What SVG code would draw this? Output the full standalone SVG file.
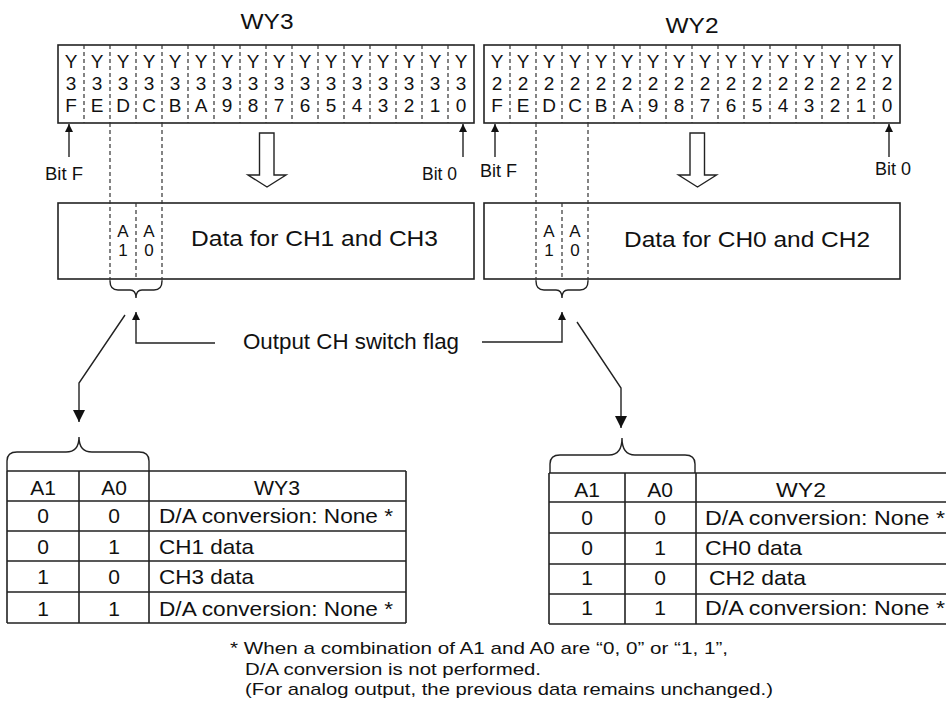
<svg xmlns="http://www.w3.org/2000/svg" width="946" height="715" viewBox="0 0 946 715">
<defs>
<style>
text{font-family:"Liberation Sans",Arial,sans-serif;fill:#111}
.reg{font-size:19px;text-anchor:middle}
.ttl{font-size:22px;text-anchor:middle}
.bit{font-size:18px}
.ab{font-size:17px;text-anchor:middle}
.big{font-size:22px}
.tb{font-size:21px}
.tc{font-size:21px;text-anchor:middle}
.fn{font-size:17px}
.box{fill:#fff;stroke:#222;stroke-width:1.6}
.dash{fill:none;stroke:#333;stroke-width:1.2;stroke-dasharray:4 3}
.ln{fill:none;stroke:#222;stroke-width:1.4}
.tl{fill:none;stroke:#222;stroke-width:1.6}
.hollow{fill:#fff;stroke:#222;stroke-width:1.4}
</style>
<marker id="ahBig" viewBox="0 0 10 10" refX="10" refY="5" markerWidth="12" markerHeight="13" markerUnits="userSpaceOnUse" orient="auto"><path d="M0,0 L10,5 L0,10 z" fill="#111"/></marker>
<marker id="ahSmall" viewBox="0 0 10 10" refX="10" refY="5" markerWidth="8" markerHeight="8" markerUnits="userSpaceOnUse" orient="auto"><path d="M0,0 L10,5 L0,10 z" fill="#111"/></marker>
</defs>
<rect width="946" height="715" fill="#fff"/>

<g id="wy3-register">
<text class="ttl" x="267" y="29" textLength="53" lengthAdjust="spacingAndGlyphs">WY3</text>
<rect class="box" x="58" y="45" width="416" height="78"/>
<path class="dash" d="M84,45V123M110,45V123M136,45V123M162,45V123M188,45V123M214,45V123M240,45V123M266,45V123M292,45V123M318,45V123M344,45V123M370,45V123M396,45V123M422,45V123M448,45V123"/>
<text class="reg" x="71" y="68">Y<tspan x="71" y="90">3</tspan><tspan x="71" y="112">F</tspan></text>
<text class="reg" x="97" y="68">Y<tspan x="97" y="90">3</tspan><tspan x="97" y="112">E</tspan></text>
<text class="reg" x="123" y="68">Y<tspan x="123" y="90">3</tspan><tspan x="123" y="112">D</tspan></text>
<text class="reg" x="149" y="68">Y<tspan x="149" y="90">3</tspan><tspan x="149" y="112">C</tspan></text>
<text class="reg" x="175" y="68">Y<tspan x="175" y="90">3</tspan><tspan x="175" y="112">B</tspan></text>
<text class="reg" x="201" y="68">Y<tspan x="201" y="90">3</tspan><tspan x="201" y="112">A</tspan></text>
<text class="reg" x="227" y="68">Y<tspan x="227" y="90">3</tspan><tspan x="227" y="112">9</tspan></text>
<text class="reg" x="253" y="68">Y<tspan x="253" y="90">3</tspan><tspan x="253" y="112">8</tspan></text>
<text class="reg" x="279" y="68">Y<tspan x="279" y="90">3</tspan><tspan x="279" y="112">7</tspan></text>
<text class="reg" x="305" y="68">Y<tspan x="305" y="90">3</tspan><tspan x="305" y="112">6</tspan></text>
<text class="reg" x="331" y="68">Y<tspan x="331" y="90">3</tspan><tspan x="331" y="112">5</tspan></text>
<text class="reg" x="357" y="68">Y<tspan x="357" y="90">3</tspan><tspan x="357" y="112">4</tspan></text>
<text class="reg" x="383" y="68">Y<tspan x="383" y="90">3</tspan><tspan x="383" y="112">3</tspan></text>
<text class="reg" x="409" y="68">Y<tspan x="409" y="90">3</tspan><tspan x="409" y="112">2</tspan></text>
<text class="reg" x="435" y="68">Y<tspan x="435" y="90">3</tspan><tspan x="435" y="112">1</tspan></text>
<text class="reg" x="461" y="68">Y<tspan x="461" y="90">3</tspan><tspan x="461" y="112">0</tspan></text>
<text class="bit" x="45" y="180" textLength="38" lengthAdjust="spacingAndGlyphs">Bit F</text>
<text class="bit" x="422" y="180" textLength="35" lengthAdjust="spacingAndGlyphs">Bit 0</text>
</g>

<g id="wy2-register">
<text class="ttl" x="692" y="33" textLength="53" lengthAdjust="spacingAndGlyphs">WY2</text>
<rect class="box" x="484" y="45" width="416" height="78"/>
<path class="dash" d="M510,45V123M536,45V123M562,45V123M588,45V123M614,45V123M640,45V123M666,45V123M692,45V123M718,45V123M744,45V123M770,45V123M796,45V123M822,45V123M848,45V123M874,45V123"/>
<text class="reg" x="497" y="68">Y<tspan x="497" y="90">2</tspan><tspan x="497" y="112">F</tspan></text>
<text class="reg" x="523" y="68">Y<tspan x="523" y="90">2</tspan><tspan x="523" y="112">E</tspan></text>
<text class="reg" x="549" y="68">Y<tspan x="549" y="90">2</tspan><tspan x="549" y="112">D</tspan></text>
<text class="reg" x="575" y="68">Y<tspan x="575" y="90">2</tspan><tspan x="575" y="112">C</tspan></text>
<text class="reg" x="601" y="68">Y<tspan x="601" y="90">2</tspan><tspan x="601" y="112">B</tspan></text>
<text class="reg" x="627" y="68">Y<tspan x="627" y="90">2</tspan><tspan x="627" y="112">A</tspan></text>
<text class="reg" x="653" y="68">Y<tspan x="653" y="90">2</tspan><tspan x="653" y="112">9</tspan></text>
<text class="reg" x="679" y="68">Y<tspan x="679" y="90">2</tspan><tspan x="679" y="112">8</tspan></text>
<text class="reg" x="705" y="68">Y<tspan x="705" y="90">2</tspan><tspan x="705" y="112">7</tspan></text>
<text class="reg" x="731" y="68">Y<tspan x="731" y="90">2</tspan><tspan x="731" y="112">6</tspan></text>
<text class="reg" x="757" y="68">Y<tspan x="757" y="90">2</tspan><tspan x="757" y="112">5</tspan></text>
<text class="reg" x="783" y="68">Y<tspan x="783" y="90">2</tspan><tspan x="783" y="112">4</tspan></text>
<text class="reg" x="809" y="68">Y<tspan x="809" y="90">2</tspan><tspan x="809" y="112">3</tspan></text>
<text class="reg" x="835" y="68">Y<tspan x="835" y="90">2</tspan><tspan x="835" y="112">2</tspan></text>
<text class="reg" x="861" y="68">Y<tspan x="861" y="90">2</tspan><tspan x="861" y="112">1</tspan></text>
<text class="reg" x="887" y="68">Y<tspan x="887" y="90">2</tspan><tspan x="887" y="112">0</tspan></text>
<text class="bit" x="480" y="177" textLength="37" lengthAdjust="spacingAndGlyphs">Bit F</text>
<text class="bit" x="875" y="175" textLength="36" lengthAdjust="spacingAndGlyphs">Bit 0</text>
</g>

<g id="wy3-data">
<rect class="box" x="58" y="203" width="416" height="76"/>
<path class="dash" d="M136,203V279"/>
<text class="ab" x="123" y="237">A<tspan x="123" y="256">1</tspan></text>
<text class="ab" x="149" y="237">A<tspan x="149" y="256">0</tspan></text>
<text class="big" x="191" y="246" textLength="247" lengthAdjust="spacingAndGlyphs">Data for CH1 and CH3</text>
</g>

<g id="wy2-data">
<rect class="box" x="484" y="203" width="416" height="76"/>
<path class="dash" d="M562,203V279"/>
<text class="ab" x="549" y="237">A<tspan x="549" y="256">1</tspan></text>
<text class="ab" x="575" y="237">A<tspan x="575" y="256">0</tspan></text>
<text class="big" x="624" y="247" textLength="246" lengthAdjust="spacingAndGlyphs">Data for CH0 and CH2</text>
</g>

<g id="flag-label">
<text class="big" x="243" y="349" font-size="21" textLength="216" lengthAdjust="spacingAndGlyphs">Output CH switch flag</text>
</g>

<g id="wy3-table">
<path class="ln" d="M7,471V461Q7,452 17,452H66Q79,452 79,437Q79,452 92,452H139Q149,452 149,461V471"/>
<path class="tl" d="M7,471H406M7,501H406M7,531H406M7,561H406M7,592H406M7,623H406M7,471V623M79,471V623M149,471V623M406,471V623"/>
<text class="tc" x="43" y="495">A1</text>
<text class="tc" x="114" y="495">A0</text>
<text class="tc" x="277" y="495" textLength="46" lengthAdjust="spacingAndGlyphs">WY3</text>
<text class="tc" x="43" y="523">0</text><text class="tc" x="114" y="523">0</text>
<text class="tb" x="159" y="523" textLength="234" lengthAdjust="spacingAndGlyphs">D/A conversion: None *</text>
<text class="tc" x="43" y="554">0</text><text class="tc" x="114" y="554">1</text>
<text class="tb" x="159" y="554" textLength="95" lengthAdjust="spacingAndGlyphs">CH1 data</text>
<text class="tc" x="43" y="584">1</text><text class="tc" x="114" y="584">0</text>
<text class="tb" x="159" y="584" textLength="95" lengthAdjust="spacingAndGlyphs">CH3 data</text>
<text class="tc" x="43" y="616">1</text><text class="tc" x="114" y="616">1</text>
<text class="tb" x="159" y="616" textLength="234" lengthAdjust="spacingAndGlyphs">D/A conversion: None *</text>
</g>

<g id="wy2-table">
<path class="ln" d="M550,473V464Q550,455 560,455H609Q622,455 622,438Q622,455 635,455H685Q695,455 695,464V473"/>
<path class="tl" d="M549,473H946M549,502H946M549,533H946M549,564H946M549,594H946M549,624H946M549,473V624M625,473V624M696,473V624"/>
<text class="tc" x="587" y="497">A1</text>
<text class="tc" x="660" y="497">A0</text>
<text class="tc" x="801" y="497" textLength="50" lengthAdjust="spacingAndGlyphs">WY2</text>
<text class="tc" x="587" y="525">0</text><text class="tc" x="660" y="525">0</text>
<text class="tb" x="705" y="525" textLength="240" lengthAdjust="spacingAndGlyphs">D/A conversion: None *</text>
<text class="tc" x="587" y="555">0</text><text class="tc" x="660" y="555">1</text>
<text class="tb" x="705" y="555" textLength="97" lengthAdjust="spacingAndGlyphs">CH0 data</text>
<text class="tc" x="587" y="585">1</text><text class="tc" x="660" y="585">0</text>
<text class="tb" x="709" y="585" textLength="97" lengthAdjust="spacingAndGlyphs">CH2 data</text>
<text class="tc" x="587" y="615">1</text><text class="tc" x="660" y="615">1</text>
<text class="tb" x="705" y="615" textLength="240" lengthAdjust="spacingAndGlyphs">D/A conversion: None *</text>
</g>

<g id="footnote">
<text class="fn" x="230" y="654" textLength="498" lengthAdjust="spacingAndGlyphs">* When a combination of A1 and A0 are “0, 0” or “1, 1”,</text>
<text class="fn" x="245" y="675" textLength="296" lengthAdjust="spacingAndGlyphs">D/A conversion is not performed.</text>
<text class="fn" x="245" y="695" textLength="528" lengthAdjust="spacingAndGlyphs">(For analog output, the previous data remains unchanged.)</text>
</g>

<g id="connectors">
<path class="ln" d="M69,157V124" marker-end="url(#ahSmall)"/>
<path class="ln" d="M463,157V124" marker-end="url(#ahSmall)"/>
<path class="ln" d="M495,157V124" marker-end="url(#ahSmall)"/>
<path class="ln" d="M889,157V124" marker-end="url(#ahSmall)"/>
<path class="hollow" d="M259.5,133H274V175H286L267,187L248,175H259.5Z"/>
<path class="hollow" d="M690,133H704.5V175H716.5L697.5,187L678.5,175H690Z"/>
<path class="dash" d="M110,123V281M162,123V281M536,123V281M588,123V281"/>
<path class="ln" d="M110,281Q110,290 118,290H130Q136,290 136,298Q136,290 142,290H154Q162,290 162,281"/>
<path class="ln" d="M536,281Q536,290 544,290H556Q562,290 562,298Q562,290 568,290H580Q588,290 588,281"/>
<path class="ln" d="M215,343H136V312" marker-end="url(#ahSmall)"/>
<path class="ln" d="M482,342H562V312" marker-end="url(#ahSmall)"/>
<path class="ln" d="M125,315L79,383V422" marker-end="url(#ahBig)"/>
<path class="ln" d="M577,322L621,388V428" marker-end="url(#ahBig)"/>
</g>
</svg>
